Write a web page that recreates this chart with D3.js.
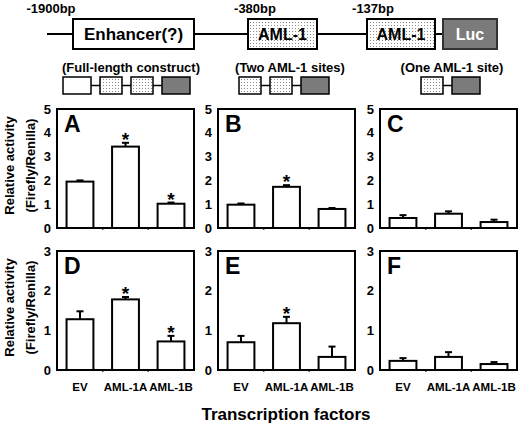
<!DOCTYPE html>
<html>
<head>
<meta charset="utf-8">
<script src="https://cdn.jsdelivr.net/npm/d3@7"></script>
<style>
  body { margin: 0; background: #fff; }
  svg { display: block; font-family: "Liberation Sans", Arial, sans-serif; font-weight: bold; }
</style>
</head>
<body>
<div id="chart"></div>
<script>
// ---- data ----
const factors = ["EV", "AML-1A", "AML-1B"];
const panelLetters = ["A", "B", "C", "D", "E", "F"];
const rowMax = [5, 3];
const rowTicks = [[0, 1, 2, 3, 4, 5], [0, 1, 2, 3]];

// relative activity (Firefly/Renilla), one row per panel A..F
const means = [
  [1.95, 3.42, 1.02],
  [0.98, 1.73, 0.80],
  [0.42, 0.60, 0.25],
  [1.28, 1.78, 0.72],
  [0.70, 1.18, 0.33],
  [0.23, 0.33, 0.15]
];
const errors = [
  [0.05, 0.16, 0.05],
  [0.05, 0.07, 0.04],
  [0.12, 0.10, 0.10],
  [0.20, 0.06, 0.14],
  [0.16, 0.16, 0.26],
  [0.07, 0.12, 0.05]
];
const stars = [
  [0, 1, 1],
  [0, 1, 0],
  [0, 0, 0],
  [0, 1, 1],
  [0, 1, 0],
  [0, 0, 0]
];

const bpLabels = ["-1900bp", "-380bp", "-137bp"];
const elements = ["Enhancer(?)", "AML-1", "AML-1", "Luc"];
const constructNames = ["(Full-length construct)", "(Two AML-1 sites)", "(One AML-1 site)"];
const constructParts = [["enh", "aml", "aml", "luc"], ["aml", "aml", "luc"], ["aml", "luc"]];

// ---- layout ----
let width = 520, height = 426;
const colX = [57, 218, 380], rowY = [109, 251];
const pw = 137, ph = 119;
const lucGray = "#7b7b7b";
const font = "'Liberation Sans', Arial, sans-serif";

const svg = d3.select("#chart")
  .append("svg")
  .attr("width", width)
  .attr("height", height)
  .attr("viewBox", [0, 0, width, height]);

// stipple fill for the AML-1 boxes
const pat = svg.append("defs").append("pattern")
  .attr("id", "dots")
  .attr("width", 3).attr("height", 3)
  .attr("patternUnits", "userSpaceOnUse");
pat.append("rect").attr("width", 3).attr("height", 3).attr("fill", "#fff");
pat.append("rect").attr("x", 1).attr("y", 1).attr("width", 1).attr("height", 1).attr("fill", "#8a8a8a");

const fillFor = k => k === "enh" ? "#fff" : k === "aml" ? "url(#dots)" : lucGray;

// ---- promoter schematic ----
const boxX = [[73, 194], [248, 317], [367, 435], [443, 497]];
const bpX = [51, 255, 373];
const kinds = ["enh", "aml", "aml", "luc"];
const sizes = [17, 16, 16, 16];

svg.append("line")
  .attr("x1", 47).attr("x2", 443)
  .attr("y1", 34).attr("y2", 34)
  .attr("stroke", "#000").attr("stroke-width", 2);

elements.forEach((e, i) => {
  svg.append("rect")
    .attr("x", boxX[i][0]).attr("y", 19)
    .attr("width", boxX[i][1] - boxX[i][0]).attr("height", 30)
    .attr("fill", fillFor(kinds[i]))
    .attr("stroke", kinds[i] === "luc" ? "#333" : "#000")
    .attr("stroke-width", 2);
  svg.append("text")
    .attr("x", (boxX[i][0] + boxX[i][1]) / 2).attr("y", 40)
    .attr("text-anchor", "middle")
    .attr("fill", kinds[i] === "luc" ? "#fff" : "#000")
    .style("font-size", sizes[i] + "px")
    .text(e);
});

bpLabels.forEach((b, i) => {
  svg.append("text")
    .attr("x", bpX[i]).attr("y", 13)
    .attr("text-anchor", "middle")
    .style("font-size", "13px")
    .text(b);
});

// mini constructs
const constructStart = [63, 239, 421];
const labelX = [131, 290, 452];
const partW = { enh: 28, aml: 22, luc: 28 };
const gap = 9;

constructNames.forEach((name, c) => {
  svg.append("text")
    .attr("x", labelX[c]).attr("y", 72)
    .attr("text-anchor", "middle")
    .style("font-size", "13px")
    .text(name);

  let xs = constructStart[c];
  constructParts[c].forEach((k, j) => {
    if (j > 0) {
      svg.append("line")
        .attr("x1", xs - gap).attr("x2", xs)
        .attr("y1", 85.5).attr("y2", 85.5)
        .attr("stroke", "#000").attr("stroke-width", 1.5);
    }
    svg.append("rect")
      .attr("x", xs).attr("y", 77)
      .attr("width", partW[k]).attr("height", 17)
      .attr("fill", fillFor(k))
      .attr("stroke", "#000").attr("stroke-width", 1.5);
    xs += partW[k] + gap;
  });
});

// ---- bar panels ----
means.forEach((vals, p) => {
  const row = Math.floor(p / 3), col = p % 3;
  const left = colX[col], top = rowY[row];

  let x = d3.scaleBand()
    .domain(factors)
    .range([left, left + pw])
    .paddingInner(0.41)
    .paddingOuter(0.21);

  let y = d3.scaleLinear()
    .domain([0, rowMax[row]])
    .range([top + ph, top]);

  const g = svg.append("g");

  // y tick labels
  const ya = g.append("g")
    .attr("transform", `translate(${left},0)`)
    .call(d3.axisLeft(y)
      .tickValues(rowTicks[row])
      .tickFormat(d3.format("d"))
      .tickSize(0)
      .tickPadding(6));
  ya.select(".domain").remove();
  ya.selectAll("text")
    .style("font-family", font)
    .style("font-weight", "bold")
    .style("font-size", "13px")
    .attr("fill", "#000");

  // x labels on the bottom row only
  if (row === 1) {
    const xa = g.append("g")
      .attr("transform", `translate(0,${top + ph})`)
      .call(d3.axisBottom(x).tickSize(0).tickPadding(13));
    xa.select(".domain").remove();
    xa.selectAll("text")
      .style("font-family", font)
      .style("font-weight", "bold")
      .style("font-size", "11.5px")
      .attr("fill", "#000");
  }

  // small notches between categories
  factors.slice(1).forEach(f => {
    const nx = x(f) - x.step() * x.paddingInner() / 2;
    g.append("line")
      .attr("x1", nx).attr("x2", nx)
      .attr("y1", top + ph).attr("y2", top + ph + 2)
      .attr("stroke", "#555").attr("stroke-width", 1.5);
  });

  // error bars (upper only)
  vals.forEach((v, i) => {
    const cx = x(factors[i]) + x.bandwidth() / 2;
    const yt = y(v + errors[p][i]);
    g.append("line")
      .attr("x1", cx).attr("x2", cx)
      .attr("y1", y(v)).attr("y2", yt)
      .attr("stroke", "#000").attr("stroke-width", 2);
    g.append("line")
      .attr("x1", cx - 3.5).attr("x2", cx + 3.5)
      .attr("y1", yt).attr("y2", yt)
      .attr("stroke", "#000").attr("stroke-width", 2);
    if (stars[p][i]) {
      g.append("text")
        .attr("x", cx).attr("y", yt + 3)
        .attr("text-anchor", "middle")
        .style("font-size", "19px")
        .text("*");
    }
  });

  // bars
  g.selectAll("rect.bar")
    .data(vals)
    .join("rect")
    .attr("class", "bar")
    .attr("x", (d, i) => x(factors[i]))
    .attr("y", d => y(d))
    .attr("width", x.bandwidth())
    .attr("height", d => y(0) - y(d))
    .attr("fill", "#fff")
    .attr("stroke", "#000")
    .attr("stroke-width", 2);

  // frame
  g.append("rect")
    .attr("x", left).attr("y", top)
    .attr("width", pw).attr("height", ph)
    .attr("fill", "none")
    .attr("stroke", "#000")
    .attr("stroke-width", 2);

  g.append("text")
    .attr("x", left + 7).attr("y", top + 23)
    .style("font-size", "23px")
    .text(panelLetters[p]);
});

// y titles
rowY.forEach(top => {
  const cy = top + ph / 2 - 3;
  svg.append("text")
    .attr("transform", `translate(14,${cy}) rotate(-90)`)
    .attr("text-anchor", "middle")
    .style("font-size", "13px")
    .text("Relative activity");
  svg.append("text")
    .attr("transform", `translate(35,${cy}) rotate(-90)`)
    .attr("text-anchor", "middle")
    .style("font-size", "13px")
    .text("(Firefly/Renilla)");
});

svg.append("text")
  .attr("x", 286).attr("y", 420)
  .attr("text-anchor", "middle")
  .style("font-size", "17px")
  .text("Transcription factors");
</script>
</body>
</html>
